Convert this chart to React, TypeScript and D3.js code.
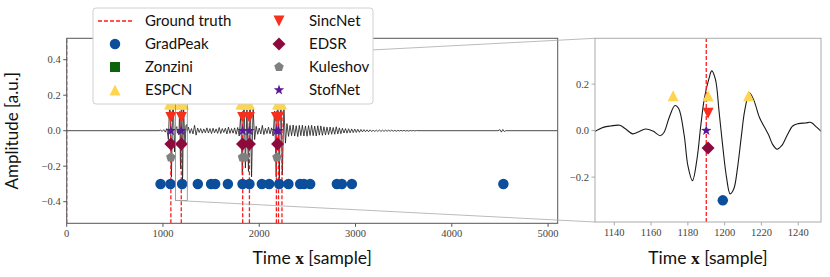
import React from "react";
import * as d3 from "d3";

// ground-truth echo positions [sample]
const groundTruth = [0, 1082, 1190, 1828, 1898, 2178, 2200, 2236];

// detections per method [sample]
const gradPeak = [975, 1078, 1199, 1362, 1500, 1542, 1674, 1826, 1898, 2027, 2103, 2207, 2303, 2425, 2465, 2529, 2806, 2858, 2962, 4536];
const zonzini: number[] = [];
const espcn = [1068, 1082, 1100, 1172, 1191, 1213, 1810, 1828, 1850, 1880, 1898, 2190, 2200, 2215, 2232];
const sincNet = [1082, 1191, 1828, 1898, 2178, 2200];
const edsr = [1082, 1191, 1826, 1898, 2190];
const kuleshov = [1082, 1826, 1850, 2184];
const stofNet = [1082, 1190, 1828, 1898, 2180, 2200];

// signal: samples before the zoom window (step 16 from 960)
const headStart = 960;
const headStep = 16;
const signalHead = [0, 0.003, -0.004, 0.006, -0.008, 0.012, -0.05, 0.19, -0.26, 0.23, -0.12];

// zoom window trace [sample, amplitude]
const zoomSignal: [number, number][] = [
  [1129, -0.005], [1134, 0.014], [1138, 0.02], [1143, 0.023], [1146, 0.008], [1150, -0.014],
  [1153, -0.006], [1157, 0.007], [1161, -0.002], [1165, -0.022], [1167, -0.008], [1170, 0.06],
  [1173, 0.108], [1175, 0.095], [1178, -0.02], [1180, -0.15], [1182.5, -0.215], [1185, -0.12],
  [1187, 0.02], [1189, 0.14], [1191.5, 0.225], [1193, 0.257], [1195, 0.22], [1197, 0.08],
  [1199, -0.07], [1201, -0.2], [1203, -0.272], [1205, -0.25], [1207, -0.16], [1209, -0.03],
  [1211, 0.09], [1213.5, 0.163], [1216, 0.128], [1219, 0.055], [1222, 0.01], [1224, -0.02],
  [1226, -0.058], [1228.5, -0.08], [1231, -0.065], [1234, -0.02], [1237, 0.02], [1240, 0.03],
  [1244, 0.033], [1247, 0.035], [1250, 0.015], [1252.5, -0.003],
];

// samples after the zoom window (step 16 from 1264)
const tailStart = 1264;
const tailStep = 16;
const signalTail = [
  0.02, -0.015, 0.012, -0.018, 0.03, -0.025, 0.015, -0.01, 0.012, -0.014,
  0.01, -0.012, 0.016, -0.013, 0.012, -0.016, 0.014, -0.012, 0.01, -0.015,
  0.018, -0.016, 0.012, -0.01, 0.014, -0.018, 0.02, -0.015, 0.012, -0.014,
  0.016, -0.02, 0.018, -0.03, 0.09, -0.25, 0.26, -0.21, 0.12, -0.23,
  0.25, -0.26, 0.13, -0.05, 0.025, -0.02, 0.015, -0.018, 0.03, -0.022,
  0.014, -0.016, 0.02, -0.018, 0.016, -0.03, 0.11, -0.26, 0.27, -0.27,
  0.25, -0.25, 0.13, -0.07, 0.04, -0.032, 0.03, -0.028, 0.032, -0.03,
  0.028, -0.033, 0.03, -0.028, 0.031, -0.03, 0.027, -0.031, 0.029, -0.027,
  0.03, -0.028, 0.026, -0.03, 0.028, -0.025, 0.027, -0.026, 0.022, -0.024,
  0.02, -0.022, 0.021, -0.02, 0.018, -0.02, 0.022, -0.018, 0.016, -0.017,
  0.014, -0.013, 0.012, -0.014, 0.011, -0.012, 0.01, -0.011, 0.009, -0.01,
  0.008, -0.009, 0.007, -0.007, 0.006, -0.006, 0.005, -0.006, 0.005, -0.005,
  0.004, -0.005, 0.004, -0.004, 0.004, -0.004, 0.003, -0.004, 0.003, -0.003,
  0.003, -0.003, 0.003, -0.003, 0.002, -0.003, 0.002, -0.002, 0.002, -0.002,
  0.002, -0.002, 0.001, -0.002, 0.001, -0.001, 0.001, -0.001, 0.001, 0,
];
const signalEnd: [number, number][] = [
  [4480, 0], [4500, 0.006], [4515, -0.008], [4530, 0.007], [4545, -0.005], [4560, 0], [5100, 0],
];

const xTicksMain = [0, 1000, 2000, 3000, 4000, 5000];
const yTicksMain = [-0.4, -0.2, 0, 0.2, 0.4];
const xTicksZoom = [1140, 1160, 1180, 1200, 1220, 1240];
const yTicksZoom = [-0.2, 0, 0.2];

type Method = { name: string; xs: number[]; level: number; color: string; shape: string; size: number };
const methods: Method[] = [
  { name: "GradPeak", xs: gradPeak, level: -0.3, color: "#0b4f9c", shape: "circle", size: 10.5 },
  { name: "Zonzini", xs: zonzini, level: -0.225, color: "#0a640a", shape: "square", size: 10 },
  { name: "ESPCN", xs: espcn, level: 0.15, color: "#ffd54f", shape: "up", size: 11 },
  { name: "SincNet", xs: sincNet, level: 0.075, color: "#f5301e", shape: "down", size: 11 },
  { name: "EDSR", xs: edsr, level: -0.075, color: "#8c0a3c", shape: "diamond", size: 13 },
  { name: "Kuleshov", xs: kuleshov, level: -0.15, color: "#808080", shape: "pentagon", size: 10 },
  { name: "StofNet", xs: stofNet, level: 0, color: "#5a1a96", shape: "star", size: 11 },
];

function markerPath(shape: string, s: number): string {
  const h = s / 2;
  if (shape === "circle") return d3.symbol(d3.symbolCircle, Math.PI * h * h)() as string;
  if (shape === "square") return `M${-h},${-h}H${h}V${h}H${-h}Z`;
  if (shape === "up") return `M0,${-h}L${h},${h}L${-h},${h}Z`;
  if (shape === "down") return `M0,${h}L${h},${-h}L${-h},${-h}Z`;
  if (shape === "diamond") return `M0,${-h}L${h},0L0,${h}L${-h},0Z`;
  const n = shape === "star" ? 10 : 5;
  const pts: string[] = [];
  for (let k = 0; k < n; k++) {
    const a = -Math.PI / 2 + (k * 2 * Math.PI) / n;
    const r = shape === "star" && k % 2 === 1 ? h * 0.4 : h;
    pts.push(`${(r * Math.cos(a)).toFixed(2)},${(r * Math.sin(a)).toFixed(2)}`);
  }
  return "M" + pts.join("L") + "Z";
}

const W = 830;
const H = 277;
const main = { left: 66.7, right: 557.7, top: 38.3, bottom: 223.3 };
const zoom = { left: 595, right: 821, top: 38.3, bottom: 222 };
const tickFont = "'Liberation Serif', 'DejaVu Serif', serif";
const sansFont = "Lato, 'DejaVu Sans', sans-serif";
const fmt = (v: number) => (v < 0 ? "\u2212" : "") + Math.abs(v).toFixed(1);

function Panel({ x, y, clip, trace, frame, xTicks, yTicks, smoothTrace }: any) {
  const [x0, x1] = x.range();
  const [y0, y1] = y.range();
  const line = d3.line<[number, number]>().x((d) => x(d[0])).y((d) => y(d[1]));
  if (smoothTrace) line.curve(d3.curveCatmullRom);
  return (
    <g>
      <g clipPath={`url(#${clip})`}>
        <path d={line(trace) as string} fill="none" stroke="#1a1a1a" strokeWidth={smoothTrace ? 1.1 : 0.8} />
        {groundTruth.map((g, i) => (
          <line key={i} x1={x(g)} x2={x(g)} y1={y0} y2={y1} stroke="#ff1a1a" strokeWidth={1.3} strokeDasharray="4,2" />
        ))}
        {methods.map((m) =>
          m.xs.map((v, i) => (
            <path key={m.name + i} d={markerPath(m.shape, m.size)} transform={`translate(${x(v)},${y(m.level)})`} fill={m.color} />
          ))
        )}
      </g>
      <rect x={x0} y={y1} width={x1 - x0} height={y0 - y1} fill="none" stroke={frame} strokeWidth={1} />
      {xTicks.map((t: number) => (
        <g key={t} transform={`translate(${x(t)},${y0})`}>
          <line y2={3.5} stroke={frame} />
          <text y={14} textAnchor="middle" fontFamily={tickFont} fontSize={10.5} fill="#444">{t}</text>
        </g>
      ))}
      {yTicks.map((t: number) => (
        <g key={t} transform={`translate(${x0},${y(t)})`}>
          <line x2={-3.5} stroke={frame} />
          <text x={-6} dy="0.33em" textAnchor="end" fontFamily={tickFont} fontSize={10.5} fill="#444">{fmt(t)}</text>
        </g>
      ))}
    </g>
  );
}

export default function App() {
  const xMain = d3.scaleLinear().domain([0, 5100]).range([main.left, main.right]);
  const yMain = d3.scaleLinear().domain([-0.5217, 0.5206]).range([main.bottom, main.top]);
  const xZoom = d3.scaleLinear().domain([1129.5, 1252.4]).range([zoom.left, zoom.right]);
  const yZoom = d3.scaleLinear().domain([-0.393, 0.397]).range([zoom.bottom, zoom.top]);

  const full: [number, number][] = [
    [0, 0],
    ...signalHead.map((v, i) => [headStart + i * headStep, v] as [number, number]),
    ...zoomSignal,
    ...signalTail.map((v, i) => [tailStart + i * tailStep, v] as [number, number]),
    ...signalEnd,
  ];

  // inset indicator in main coordinates
  const [zx0, zx1] = xZoom.domain();
  const [zy0, zy1] = yZoom.domain();
  const rx0 = xMain(zx0), rx1 = xMain(zx1), ry0 = yMain(zy1), ry1 = yMain(zy0);

  const legendRows: [string, Method | null][] = [
    ["Ground truth", null],
    ...methods.slice(0, 3).map((m) => [m.name, m] as [string, Method]),
  ];
  const legendRows2 = methods.slice(3);

  return (
    <svg width={W} height={H} style={{ position: "absolute", left: 0, top: 0, background: "#fff" }}>
      <defs>
        <clipPath id="clipMain">
          <rect x={main.left} y={main.top} width={main.right - main.left} height={main.bottom - main.top} />
        </clipPath>
        <clipPath id="clipZoom">
          <rect x={zoom.left} y={zoom.top} width={zoom.right - zoom.left} height={zoom.bottom - zoom.top} />
        </clipPath>
      </defs>
      <Panel x={xMain} y={yMain} clip="clipMain" trace={full} frame="#555" xTicks={xTicksMain} yTicks={yTicksMain} smoothTrace={false} />
      <Panel x={xZoom} y={yZoom} clip="clipZoom" trace={zoomSignal} frame="#aaa" xTicks={xTicksZoom} yTicks={yTicksZoom} smoothTrace={true} />

      {/* inset marker */}
      <rect x={rx0} y={ry0} width={rx1 - rx0} height={ry1 - ry0} fill="none" stroke="#888" strokeWidth={0.8} />
      <line x1={rx0} y1={ry0} x2={zoom.left} y2={zoom.top} stroke="#aaa" strokeWidth={0.8} />
      <line x1={rx0} y1={ry1} x2={zoom.left} y2={zoom.bottom} stroke="#aaa" strokeWidth={0.8} />

      {/* axis labels */}
      <text transform={`translate(18,${(main.top + main.bottom) / 2}) rotate(-90)`} textAnchor="middle" fontFamily={sansFont} fontSize={17} fill="#111">
        Amplitude [a.u.]
      </text>
      {[main, zoom].map((p, i) => (
        <text key={i} x={(p.left + p.right) / 2} y={264} textAnchor="middle" fontFamily={sansFont} fontSize={17.5} fill="#111">
          Time <tspan fontFamily={tickFont} fontWeight="bold">x</tspan> [sample]
        </text>
      ))}

      {/* legend */}
      <g>
        <rect x={93} y={8} width={280} height={96} rx={3} fill="#fff" stroke="#d0d0d0" strokeWidth={1} />
        {legendRows.map(([name, m], i) => (
          <g key={name} transform={`translate(0,${21 + i * 23})`}>
            {m ? (
              <path d={markerPath(m.shape, m.size)} transform="translate(115,0)" fill={m.color} />
            ) : (
              <line x1={98} x2={132} stroke="#ff1a1a" strokeWidth={1.3} strokeDasharray="4,2" />
            )}
            <text x={145} dy="0.36em" fontFamily={sansFont} fontSize={15} fill="#111">{name}</text>
          </g>
        ))}
        {legendRows2.map((m, i) => (
          <g key={m.name} transform={`translate(0,${21 + i * 23})`}>
            <path d={markerPath(m.shape, m.size)} transform="translate(279,0)" fill={m.color} />
            <text x={309} dy="0.36em" fontFamily={sansFont} fontSize={15} fill="#111">{m.name}</text>
          </g>
        ))}
      </g>
    </svg>
  );
}
